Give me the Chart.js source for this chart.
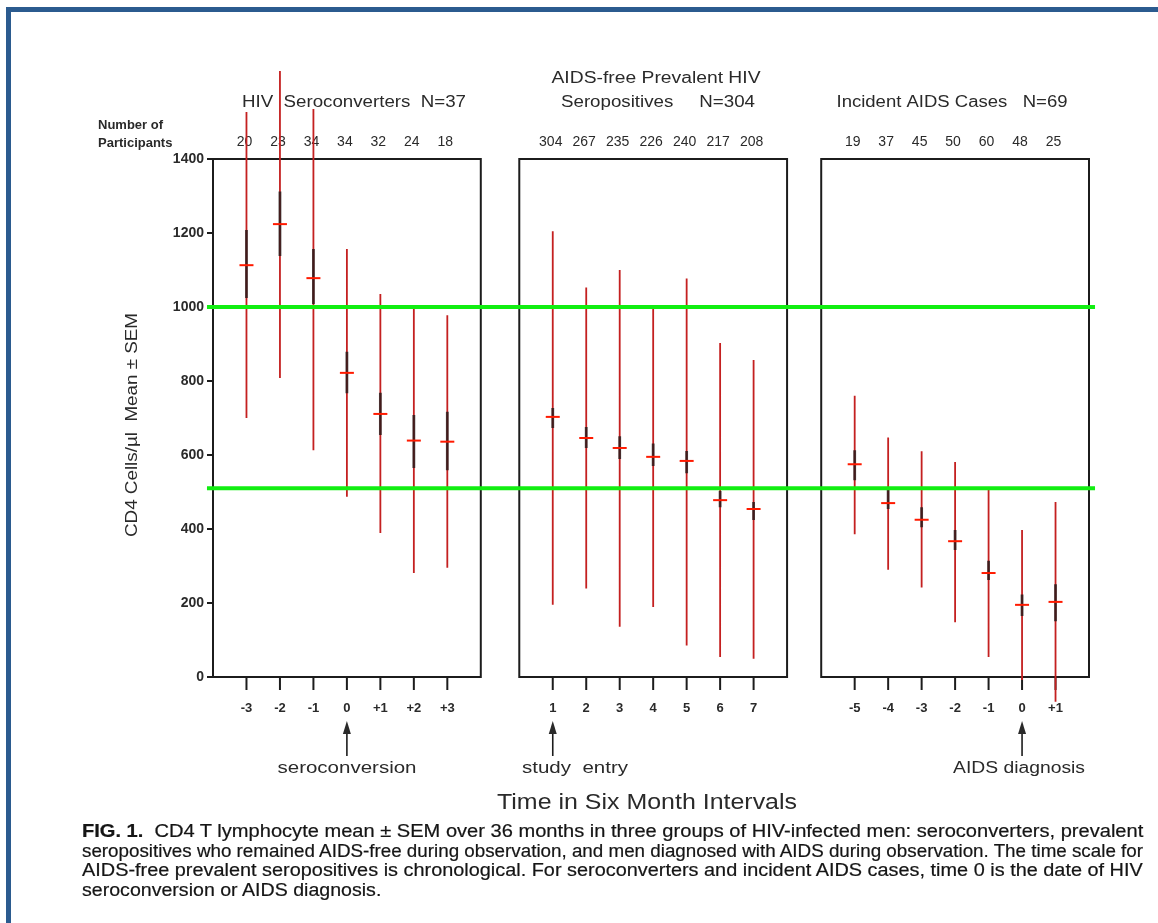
<!DOCTYPE html>
<html lang="en">
<head>
<meta charset="UTF-8">
<title>CD4 T lymphocyte mean ± SEM</title>
<style>
    body {
        margin: 0;
        background: #fff;
        font-family: "Liberation Sans", Arial, sans-serif;
    }

    #frame {
        position: absolute;
        left: 6px;
        top: 7px;
        width: 1152px;
        height: 916px;
        border-top: 5px solid #2b5b8f;
        border-left: 5px solid #2b5b8f;
        box-sizing: border-box;
    }

    #chartBox {
        position: absolute;
        left: 0;
        top: 0;
        width: 1158px;
        height: 823px;
    }

    #caption {
        position: absolute;
        left: 82px;
        top: 822px;
        width: 1061px;
        font: 17.5px/19.5px "Liberation Sans", Arial, sans-serif;
        color: #151515;
        -webkit-text-stroke: 0.2px #151515;
    }

    #caption div {
        white-space: nowrap;
        height: 19.5px;
    }

    #caption span {
        display: inline-block;
        transform-origin: 0 0;
    }
</style>
<script src="https://cdn.jsdelivr.net/npm/chart.js"></script>
</head>
<body>
<div id="frame"></div>
<div id="chartBox"><canvas id="chart"></canvas></div>
<div id="caption">
    <div><span><b>FIG. 1.</b>&nbsp;&nbsp;CD4 T lymphocyte mean ± SEM over 36 months in three groups of HIV-infected men: seroconverters, prevalent</span></div>
    <div><span>seropositives who remained AIDS-free during observation, and men diagnosed with AIDS during observation. The time scale for</span></div>
    <div><span>AIDS-free prevalent seropositives is chronological. For seroconverters and incident AIDS cases, time 0 is the date of HIV</span></div>
    <div><span>seroconversion or AIDS diagnosis.</span></div>
</div>

<script>
    // ---- data ----
    // HIV seroconverters, N=37
    const seroX = [-3, -2, -1, 0, 1, 2, 3];
    const seroLabels = ['-3', '-2', '-1', '0', '+1', '+2', '+3'];
    const seroN = [20, 23, 34, 34, 32, 24, 18];
    const seroMean = [1113, 1224, 1078, 822, 711, 639, 636];
    const seroLow = [700, 808, 613, 487, 389, 281, 295];
    const seroHigh = [1527, 1638, 1535, 1157, 1035, 995, 978];
    const seroSemLow = [1024, 1138, 1008, 767, 654, 565, 559];
    const seroSemHigh = [1208, 1312, 1157, 879, 768, 708, 717];

    // AIDS-free prevalent HIV seropositives, N=304
    const prevX = [1, 2, 3, 4, 5, 6, 7];
    const prevLabels = ['1', '2', '3', '4', '5', '6', '7'];
    const prevN = [304, 267, 235, 226, 240, 217, 208];
    const prevMean = [703, 646, 619, 595, 584, 478, 454];
    const prevLow = [195, 239, 136, 189, 85, 54, 49];
    const prevHigh = [1205, 1053, 1100, 995, 1077, 903, 857];
    const prevSemLow = [673, 619, 589, 570, 551, 459, 424];
    const prevSemHigh = [727, 676, 651, 631, 611, 503, 473];

    // Incident AIDS cases, N=69
    const aidsX = [-5, -4, -3, -2, -1, 0, 1];
    const aidsLabels = ['-5', '-4', '-3', '-2', '-1', '0', '+1'];
    const aidsN = [19, 37, 45, 50, 60, 48, 25];
    const aidsMean = [575, 470, 425, 367, 281, 195, 203];
    const aidsLow = [386, 290, 242, 148, 54, -8, -67];
    const aidsHigh = [760, 647, 610, 581, 512, 397, 473];
    const aidsSemLow = [532, 454, 405, 343, 262, 165, 151];
    const aidsSemHigh = [613, 508, 459, 397, 314, 223, 251];

    // green reference lines
    const refLevels = [1000, 510];

    const yTicks = [0, 200, 400, 600, 800, 1000, 1200, 1400];

    // each panel is 8 units wide, placed side by side on one linear x axis
    const panels = [
        { title: ['HIV  Seroconverters  N=37'], titleW: [224], cx: 354, offset: 4, boxMin: -4,
          x: seroX, labels: seroLabels, n: seroN, mean: seroMean, low: seroLow, high: seroHigh,
          semLow: seroSemLow, semHigh: seroSemHigh, arrowAt: 0, arrowText: 'seroconversion', arrowW: 139, arrowCx: 347 },
        { title: ['AIDS-free Prevalent HIV', 'Seropositives     N=304'], titleW: [209, 194], cx: 656, offset: 9.15, boxMin: 0,
          x: prevX, labels: prevLabels, n: prevN, mean: prevMean, low: prevLow, high: prevHigh,
          semLow: prevSemLow, semHigh: prevSemHigh, arrowAt: 1, arrowText: 'study  entry', arrowW: 106, arrowCx: 575 },
        { title: ['Incident AIDS Cases   N=69'], titleW: [231], cx: 952, offset: 24.17, boxMin: -6,
          x: aidsX, labels: aidsLabels, n: aidsN, mean: aidsMean, low: aidsLow, high: aidsHigh,
          semLow: aidsSemLow, semHigh: aidsSemHigh, arrowAt: 0, arrowText: 'AIDS diagnosis', arrowW: 132, arrowCx: 1019 }
    ];

    // build segments (null breaks the line between bars)
    const whiskers = [], sems = [], means = [];
    panels.forEach(p => {
        p.x.forEach((x, i) => {
            const gx = x + p.offset;
            whiskers.push({ x: gx, y: p.low[i] }, { x: gx, y: p.high[i] }, { x: gx, y: null });
            sems.push({ x: gx, y: p.semLow[i] }, { x: gx, y: p.semHigh[i] }, { x: gx, y: null });
            means.push({ x: gx, y: p.mean[i] });
        });
    });

    const TEXT = '#2a2a2a';
    const FONT = '"Liberation Sans", Arial, sans-serif';

    function fitText(ctx, text, cx, cy, size, width, weight) {
        ctx.font = (weight || 'normal') + ' ' + size + 'px ' + FONT;
        const w = ctx.measureText(text).width;
        ctx.save();
        ctx.translate(cx, cy);
        if (width) ctx.scale(width / w, 1);
        ctx.textAlign = 'center';
        ctx.textBaseline = 'middle';
        ctx.fillText(text, 0, 0);
        ctx.restore();
    }

    const figurePlugin = {
        id: 'figure',
        beforeDatasetsDraw(chart) {
            const ctx = chart.ctx;
            const xs = chart.scales.x, ys = chart.scales.y;
            const top = ys.getPixelForValue(1400), bottom = ys.getPixelForValue(0);
            ctx.save();
            ctx.fillStyle = TEXT;
            ctx.strokeStyle = '#1c1c1c';

            panels.forEach(p => {
                // panel box
                const left = xs.getPixelForValue(p.offset + p.boxMin);
                const right = xs.getPixelForValue(p.offset + p.boxMin + 8);
                ctx.lineWidth = 2;
                ctx.strokeRect(left, top, right - left, bottom - top);

                // titles
                if (p.title.length === 2) {
                    fitText(ctx, p.title[0], p.cx, 79, 16, p.titleW[0]);
                    fitText(ctx, p.title[1], p.cx + 2, 103, 16, p.titleW[1]);
                } else {
                    fitText(ctx, p.title[0], p.cx, 103, 16, p.titleW[0]);
                }

                p.x.forEach((x, i) => {
                    const px = xs.getPixelForValue(x + p.offset);
                    // participants
                    fitText(ctx, String(p.n[i]), px - 2, 142, 14);
                    // x tick marks and labels
                    ctx.lineWidth = 2;
                    ctx.beginPath();
                    ctx.moveTo(px, bottom);
                    ctx.lineTo(px, bottom + 13);
                    ctx.stroke();
                    fitText(ctx, p.labels[i], px, 708, 13, null, 'bold');
                });

                // arrow + label
                const ax = xs.getPixelForValue(p.arrowAt + p.offset);
                ctx.lineWidth = 1.6;
                ctx.beginPath();
                ctx.moveTo(ax, 756);
                ctx.lineTo(ax, 730);
                ctx.stroke();
                ctx.beginPath();
                ctx.moveTo(ax, 721);
                ctx.lineTo(ax - 4, 734);
                ctx.lineTo(ax + 4, 734);
                ctx.closePath();
                ctx.fill();
                fitText(ctx, p.arrowText, p.arrowCx, 769, 16, p.arrowW);
            });

            // left side labels
            ctx.font = 'bold 13px ' + FONT;
            ctx.textAlign = 'left';
            ctx.textBaseline = 'middle';
            ctx.fillText('Number of', 98, 125);
            ctx.fillText('Participants', 98, 143);

            // y title
            ctx.save();
            ctx.translate(133, 425);
            ctx.rotate(-Math.PI / 2);
            ctx.font = '16px ' + FONT;
            const t = 'CD4 Cells/µl  Mean ± SEM';
            const w = ctx.measureText(t).width;
            ctx.scale(224 / w, 1);
            ctx.textAlign = 'center';
            ctx.fillText(t, 0, 0);
            ctx.restore();

            // x title
            fitText(ctx, 'Time in Six Month Intervals', 647, 803, 22, 300);
            ctx.restore();
        }
    };

    const datasets = [
        {
            label: 'ref',
            data: refLevels.flatMap(v => [{ x: -0.18, y: v }, { x: 26.35, y: v }, { x: 26.35, y: null }]),
            borderColor: '#11ee11',
            borderWidth: 4,
            pointRadius: 0,
            spanGaps: false,
            clip: false,
            order: 0
        },
        {
            label: 'mean',
            data: means,
            showLine: false,
            pointStyle: 'line',
            pointRadius: 7,
            pointBorderWidth: 2,
            pointBorderColor: '#ff1a00',
            pointBackgroundColor: '#ff1a00',
            clip: false,
            order: 1
        },
        {
            label: 'sem',
            data: sems,
            borderColor: 'rgba(35,25,25,0.8)',
            borderWidth: 2.8,
            borderCapStyle: 'butt',
            pointRadius: 0,
            spanGaps: false,
            clip: false,
            order: 2
        },
        {
            label: 'range',
            data: whiskers,
            borderColor: '#c42020',
            borderWidth: 1.8,
            borderCapStyle: 'butt',
            pointRadius: 0,
            spanGaps: false,
            clip: false,
            order: 3
        }
    ];

    new Chart(document.getElementById('chart').getContext('2d'), {
        type: 'line',
        data: { datasets: datasets },
        options: {
            responsive: true,
            maintainAspectRatio: false,
            animation: false,
            events: [],
            layout: { padding: { left: 0, right: 69, top: 159, bottom: 146 } },
            plugins: {
                legend: { display: false },
                tooltip: { enabled: false }
            },
            scales: {
                x: { type: 'linear', display: false, min: 0, max: 26.17 },
                y: {
                    min: 0,
                    max: 1400,
                    afterBuildTicks: s => { s.ticks = yTicks.map(v => ({ value: v })); },
                    afterFit: s => { s.width = 213; },
                    ticks: {
                        color: TEXT,
                        padding: 3,
                        font: { family: FONT, size: 14, weight: 'bold' },
                        callback: v => String(v)
                    },
                    grid: {
                        drawOnChartArea: false,
                        drawTicks: true,
                        tickLength: 6,
                        color: '#1c1c1c',
                        lineWidth: 2
                    },
                    border: { display: false }
                }
            }
        },
        plugins: [figurePlugin]
    });

    // squeeze caption lines to the printed column width
    (function () {
        const spans = document.querySelectorAll('#caption span');
        const target = 1061;
        const scales = [];
        spans.forEach((s, i) => {
            if (i < spans.length - 1) scales.push(target / s.offsetWidth);
        });
        const avg = scales.reduce((a, b) => a + b, 0) / scales.length;
        spans.forEach((s, i) => {
            const k = i < spans.length - 1 ? scales[i] : avg;
            s.style.transform = 'scaleX(' + k + ')';
        });
    })();
</script>
</body>
</html>
